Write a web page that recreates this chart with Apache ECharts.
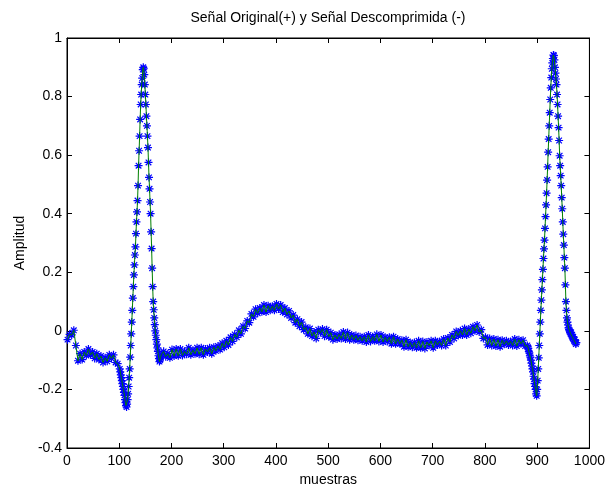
<!DOCTYPE html>
<html>
<head>
<meta charset="utf-8">
<script src="https://cdn.jsdelivr.net/npm/echarts@6/dist/echarts.min.js"></script>
<style>
  html, body { margin: 0; padding: 0; background: #fff; }
  #main { width: 608px; height: 492px; }
</style>
</head>
<body>
<div id="main"></div>
<script type="text/javascript">
// señal, por tramos (muestra inicial, paso entre muestras)
// tramo A: muestras 1..97, cada 4
var tramoA = [-0.03, -0.012, -0.014, 0.002, -0.05, -0.102, -0.078, -0.098, -0.072, -0.084,
    -0.062, -0.082, -0.072, -0.094, -0.078, -0.098, -0.086, -0.108, -0.092, -0.104,
    -0.082, -0.094, -0.082, -0.108, -0.112];
// tramo B: muestras 101..181, una a una (primer complejo QRS)
var tramoB = [-0.13, -0.14, -0.15, -0.16, -0.17, -0.18, -0.19, -0.20, -0.21, -0.22,
    -0.235, -0.245, -0.255, -0.26, -0.25, -0.235, -0.215, -0.19, -0.16, -0.13,
    -0.09, -0.05, -0.01, 0.03, 0.07, 0.112, 0.151, 0.191, 0.225, 0.259,
    0.287, 0.332, 0.372, 0.406, 0.445, 0.496, 0.564, 0.615, 0.665, 0.722,
    0.773, 0.807, 0.841, 0.863, 0.892, 0.90, 0.895, 0.875, 0.841, 0.807,
    0.773, 0.733, 0.70, 0.665, 0.626, 0.575, 0.524, 0.485, 0.44, 0.40,
    0.338, 0.281, 0.214, 0.151, 0.10, 0.072, 0.044, 0.021, 0.0, -0.015,
    -0.03, -0.045, -0.058, -0.07, -0.085, -0.095, -0.105, -0.1, -0.09, -0.085,
    -0.08];
// tramo C: muestras 185..877, cada 4
var tramoC = [-0.07, -0.088, -0.078, -0.092, -0.064, -0.086, -0.062, -0.085, -0.062, -0.084,
    -0.07, -0.08, -0.058, -0.082, -0.066, -0.078, -0.058, -0.08, -0.058, -0.082,
    -0.062, -0.072, -0.058, -0.078, -0.056, -0.068, -0.052, -0.064, -0.042, -0.056,
    -0.034, -0.048, -0.022, -0.036, -0.012, -0.022, 0.002, -0.01, 0.016, 0.008,
    0.034, 0.028, 0.058, 0.048, 0.074, 0.06, 0.078, 0.065, 0.088, 0.064,
    0.086, 0.07, 0.084, 0.07, 0.092, 0.075, 0.088, 0.064, 0.078, 0.056,
    0.068, 0.044, 0.054, 0.028, 0.04, 0.016, 0.03, 0.004, 0.012, -0.01,
    0.008, -0.018, -0.004, -0.026, 0.004, -0.006, 0.006, -0.018, 0.004, -0.02,
    -0.006, -0.03, -0.014, -0.028, -0.012, -0.026, -0.004, -0.028, -0.006, -0.03,
    -0.014, -0.03, -0.016, -0.032, -0.02, -0.034, -0.02, -0.038, -0.014, -0.036,
    -0.02, -0.034, -0.012, -0.036, -0.014, -0.038, -0.022, -0.036, -0.022, -0.044,
    -0.02, -0.044, -0.028, -0.044, -0.032, -0.054, -0.03, -0.054, -0.04, -0.056,
    -0.04, -0.058, -0.034, -0.058, -0.036, -0.06, -0.038, -0.05, -0.034, -0.058,
    -0.034, -0.048, -0.036, -0.05, -0.028, -0.05, -0.024, -0.038, -0.014, -0.026,
    -0.002, -0.016, 0.0, -0.014, 0.008, -0.014, 0.006, -0.008, 0.014, 0.0,
    0.02, -0.004, 0.004, -0.026, -0.022, -0.048, -0.026, -0.05, -0.028, -0.052,
    -0.03, -0.054, -0.032, -0.046, -0.034, -0.048, -0.036, -0.05, -0.028, -0.052,
    -0.03, -0.044, -0.032, -0.052];
// tramo D: muestras 881..975, una a una (segundo complejo QRS)
var tramoD = [-0.05, -0.055, -0.06, -0.07, -0.075, -0.085, -0.09, -0.10, -0.11, -0.12,
    -0.13, -0.14, -0.155, -0.165, -0.18, -0.19, -0.20, -0.215, -0.222, -0.20,
    -0.17, -0.13, -0.092, -0.05, -0.01, 0.03, 0.07, 0.105, 0.14, 0.175,
    0.21, 0.247, 0.28, 0.31, 0.35, 0.39, 0.43, 0.47, 0.515, 0.56,
    0.61, 0.655, 0.70, 0.745, 0.79, 0.83, 0.865, 0.895, 0.915, 0.93,
    0.942, 0.94, 0.925, 0.90, 0.88, 0.86, 0.841, 0.807, 0.773, 0.733,
    0.694, 0.65, 0.598, 0.564, 0.53, 0.496, 0.455, 0.417, 0.372, 0.33,
    0.293, 0.25, 0.214, 0.157, 0.10, 0.07, 0.044, 0.03, 0.02, 0.01,
    0.005, 0.0, -0.005, -0.01, -0.005, -0.015, -0.02, -0.025, -0.02, -0.03,
    -0.035, -0.03, -0.04, -0.045, -0.04];

var tramos = [[tramoA, 1, 4], [tramoB, 101, 1], [tramoC, 185, 4], [tramoD, 881, 1]];

var xTicks = [0, 100, 200, 300, 400, 500, 600, 700, 800, 900, 1000];
var yTicks = [-0.4, -0.2, 0, 0.2, 0.4, 0.6, 0.8, 1];

var senal = [];
tramos.forEach(function (t) {
    for (var i = 0; i < t[0].length; i++) {
        senal.push([t[1] + i * t[2], t[0][i]]);
    }
});

var fuente = 'Liberation Sans, Arial, sans-serif';
// asterisco tipo matlab
var asterisco = 'path://M0 5L10 5M5 0L5 10M1.5 1.5L8.5 8.5M8.5 1.5L1.5 8.5';

var myChart = echarts.init(document.getElementById('main'));

var ejeX = {
    type: 'value',
    min: xTicks[0],
    max: xTicks[xTicks.length - 1],
    interval: 100,
    splitLine: { show: false },
    axisLine: { show: true, onZero: false, lineStyle: { color: '#000', width: 1 } },
    axisTick: { show: true, inside: true, length: 5, lineStyle: { color: '#000' } }
};
var ejeY = {
    type: 'value',
    min: yTicks[0],
    max: yTicks[yTicks.length - 1],
    interval: 0.2,
    splitLine: { show: false },
    axisLine: { show: true, onZero: false, lineStyle: { color: '#000', width: 1 } },
    axisTick: { show: true, inside: true, length: 5, lineStyle: { color: '#000' } }
};

option = {
    backgroundColor: '#fff',
    animation: false,
    title: {
        text: 'Señal Original(+) y Señal Descomprimida (-)',
        left: 323,
        top: 6,
        textAlign: 'center',
        textStyle: { color: '#000', fontSize: 14, fontWeight: 'normal', fontFamily: fuente }
    },
    grid: { left: 67, right: 18, top: 38, bottom: 41, show: true, borderColor: '#000', borderWidth: 1, backgroundColor: '#fff' },
    xAxis: [
        Object.assign({}, ejeX, {
            position: 'bottom',
            name: 'muestras',
            nameLocation: 'middle',
            nameGap: 25,
            nameTextStyle: { color: '#000', fontSize: 14, fontFamily: fuente },
            axisLabel: {
                color: '#000', fontSize: 14, fontFamily: fuente, margin: 6,
                formatter: function (v) { return String(v); }
            }
        }),
        Object.assign({}, ejeX, { position: 'top', axisLabel: { show: false } })
    ],
    yAxis: [
        Object.assign({}, ejeY, {
            position: 'left',
            name: 'Amplitud',
            nameLocation: 'middle',
            nameGap: 40,
            nameTextStyle: { color: '#000', fontSize: 14, fontFamily: fuente },
            axisLabel: { color: '#000', fontSize: 14, fontFamily: fuente, margin: 5 }
        }),
        Object.assign({}, ejeY, { position: 'right', axisLabel: { show: false } })
    ],
    series: [
        {
            name: 'Original',
            type: 'scatter',
            data: senal,
            symbol: asterisco,
            symbolSize: 8,
            itemStyle: { color: '#0000ff', borderColor: '#0000ff', borderWidth: 1.2, opacity: 1 },
            z: 2
        },
        {
            name: 'Descomprimida',
            type: 'line',
            data: senal,
            showSymbol: false,
            symbol: 'none',
            lineStyle: { color: '#008000', width: 1 },
            z: 3
        }
    ]
};

myChart.setOption(option);
</script>
</body>
</html>
